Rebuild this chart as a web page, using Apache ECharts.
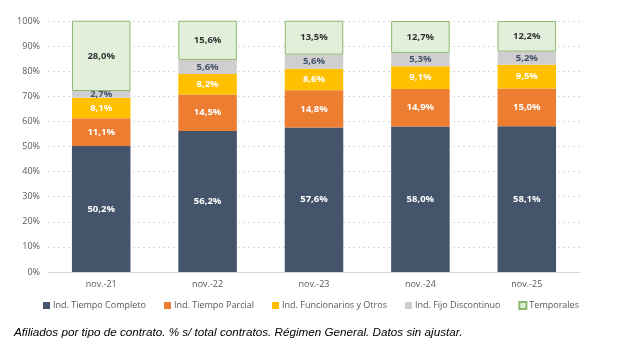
<!DOCTYPE html>
<html><head><meta charset="utf-8">
<script src="https://cdn.jsdelivr.net/npm/echarts@6/dist/echarts.min.js"></script>
<style>html,body{margin:0;padding:0;background:#fff}#c{width:635px;height:363px}</style>
</head><body><div id="c"></div>
<script>
const categories = ['nov.-21','nov.-22','nov.-23','nov.-24','nov.-25'];
const tiempoCompleto = [50.2, 56.2, 57.6, 58.0, 58.1];
const tiempoParcial = [11.1, 14.5, 14.8, 14.9, 15.0];
const funcionarios = [8.1, 8.2, 8.6, 9.1, 9.5];
const fijoDiscontinuo = [2.7, 5.6, 5.6, 5.3, 5.2];
const temporales = [28.0, 15.6, 13.5, 12.7, 12.2];
const seriesNames = ['Ind. Tiempo Completo','Ind. Tiempo Parcial','Ind. Funcionarios y Otros','Ind. Fijo Discontinuo','Temporales'];
const yTicks = [0,10,20,30,40,50,60,70,80,90,100];

const fmt = p => p.value.toFixed(1).replace('.', ',') + '%';
const font = "'Open Sans', 'Noto Sans', sans-serif";
function mk(name, data, color, labelColor, extra) {
  return Object.assign({
    name, type: 'bar', stack: 'a', data, barWidth: '55%',
    itemStyle: { color },
    label: { show: true, position: 'inside', formatter: fmt, color: labelColor,
      fontFamily: font, fontWeight: 'bold', fontSize: 9.5 }
  }, extra || {});
}
const chart = echarts.init(document.getElementById('c'));
chart.setOption({
  animation: false,
  grid: { left: 48, right: 55, top: 21, bottom: 91 },
  title: { text: 'Afiliados por tipo de contrato. % s/ total contratos. Régimen General. Datos sin ajustar.',
    left: 9, top: 322,
    textStyle: { fontFamily: "'Liberation Sans Narrow', 'Arial Narrow', 'Liberation Sans', sans-serif", fontStyle: 'italic', fontWeight: 'normal', fontSize: 11.7, color: '#000' } },
  legend: {
    bottom: 48, left: 38, itemWidth: 7, itemHeight: 7, itemGap: 18,
    icon: 'rect',
    textStyle: { fontFamily: font, fontSize: 9, color: '#595959', padding: [0,0,0,-2] },
    data: seriesNames
  },
  xAxis: {
    type: 'category', data: categories,
    axisLine: { lineStyle: { color: '#d9d9d9' } },
    axisTick: { show: false },
    axisLabel: { fontFamily: font, fontSize: 9, color: '#595959', margin: 8 }
  },
  yAxis: {
    type: 'value', min: 0, max: 100, interval: 10,
    axisLabel: { formatter: v => yTicks.includes(v) ? v + '%' : '', fontFamily: font, fontSize: 9, color: '#595959', margin: 8 },
    splitLine: { lineStyle: { color: '#d9d9d9', type: [2, 3] } },
    axisLine: { show: false }, axisTick: { show: false }
  },
  series: [
    mk(seriesNames[0], tiempoCompleto, '#44546A', '#fff'),
    mk(seriesNames[1], tiempoParcial, '#ED7D31', '#fff'),
    mk(seriesNames[2], funcionarios, '#FFC000', '#fff'),
    mk(seriesNames[3], fijoDiscontinuo, '#D0CECE', '#44546A'),
    mk(seriesNames[4], temporales, '#E2EFDA', '#333', { itemStyle: { color: '#E2EFDA', borderColor: '#8DB86E', borderWidth: 1 } })
  ]
});
</script></body></html>
